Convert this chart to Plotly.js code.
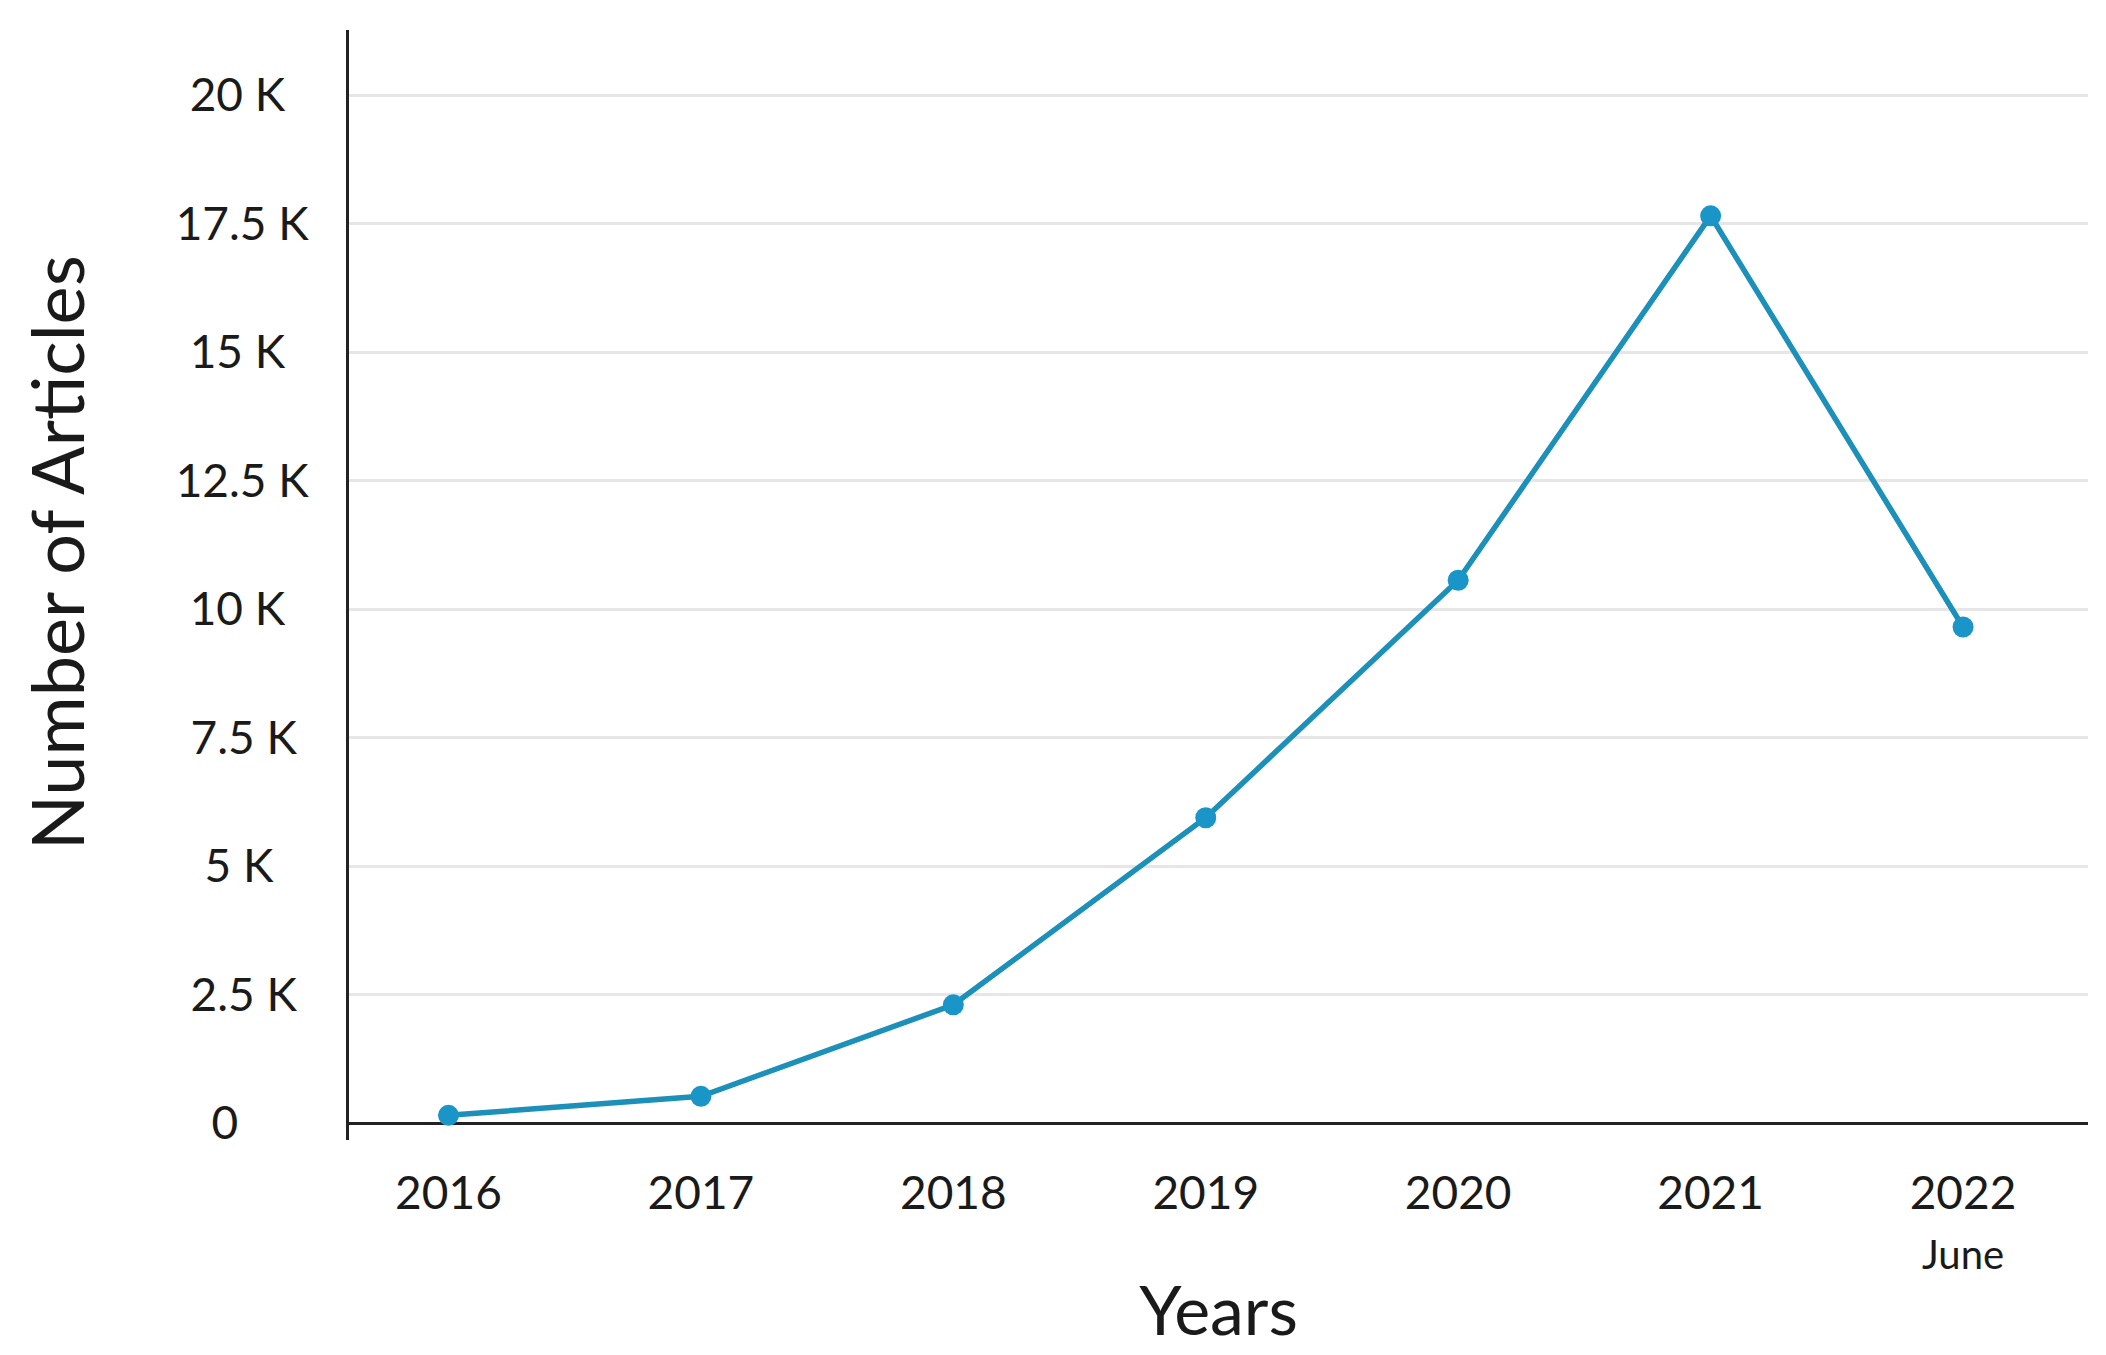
<!DOCTYPE html>
<html>
<head>
<meta charset="utf-8">
<script src="https://cdn.plot.ly/plotly-3.0.1.min.js"></script>
<style>html,body{margin:0;padding:0;background:#fff;}#chart{width:2106px;height:1355px;}</style>
</head>
<body>
<div id="chart"></div>
<script>
const years = ["2016", "2017", "2018", "2019", "2020", "2021", "2022"];
const yearLabels = ["2016", "2017", "2018", "2019", "2020", "2021", "2022<br><span style='font-size:40px'>June</span>"];
const articles = [150, 520, 2300, 5940, 10560, 17650, 9650];
const yTickVals = [0, 2500, 5000, 7500, 10000, 12500, 15000, 17500, 20000];
const yTickText = ["0", "2.5 K", "5 K", "7.5 K", "10 K", "12.5 K", "15 K", "17.5 K", "20 K"];
const xTitle = "Years";
const yTitle = "Number of Articles";

// pad shorter labels so that the column of labels looks centred
const nb = "\u00A0";
const padCount = {"0": 6, "2.5 K": 1, "5 K": 3, "7.5 K": 1, "10 K": 2, "12.5 K": 0, "15 K": 2, "17.5 K": 0, "20 K": 2};
const yTickTextPadded = yTickText.map(t => t + nb.repeat(padCount[t] || 0));

const xIdx = years.map((_, i) => i);

const trace = {
  x: xIdx,
  y: articles,
  type: "scatter",
  mode: "lines+markers",
  line: {color: "#1c90b8", width: 5.5},
  marker: {color: "#1a95c8", size: 21},
  hoverinfo: "skip"
};

const font = "Lato, 'Open Sans', sans-serif";

const layout = {
  width: 2106,
  height: 1355,
  paper_bgcolor: "#ffffff",
  plot_bgcolor: "#ffffff",
  showlegend: false,
  margin: {l: 349, r: 18, t: 30, b: 215, pad: 0},
  font: {family: font, color: "#1a1a1a"},
  xaxis: {
    range: [-0.394, 6.495],
    tickmode: "array",
    tickvals: xIdx,
    ticktext: yearLabels,
    tickfont: {family: font, size: 46, color: "#1a1a1a"},
    showgrid: false,
    zeroline: false,
    showline: false,
    ticks: "",
    ticklabelstandoff: 22,
    automargin: false,
    title: {text: xTitle, font: {family: font, size: 68, color: "#1a1a1a"}, standoff: 10}
  },
  yaxis: {
    range: [-330, 21265],
    tickmode: "array",
    tickvals: yTickVals,
    ticktext: yTickTextPadded,
    tickfont: {family: font, size: 46, color: "#1a1a1a"},
    showgrid: true,
    gridcolor: "#e6e6e6",
    gridwidth: 3,
    zeroline: true,
    zerolinecolor: "#222222",
    zerolinewidth: 3,
    showline: true,
    linecolor: "#222222",
    linewidth: 3,
    ticks: "",
    ticklabelstandoff: 28,
    automargin: false
  },
  annotations: [{
    text: yTitle,
    xref: "paper", yref: "paper",
    x: -0.1685, y: 0.5297,
    xanchor: "center", yanchor: "middle",
    textangle: -90,
    showarrow: false,
    font: {family: font, size: 72, color: "#1a1a1a"}
  }]
};

Plotly.newPlot("chart", [trace], layout, {staticPlot: true, displayModeBar: false});
</script>
</body>
</html>
